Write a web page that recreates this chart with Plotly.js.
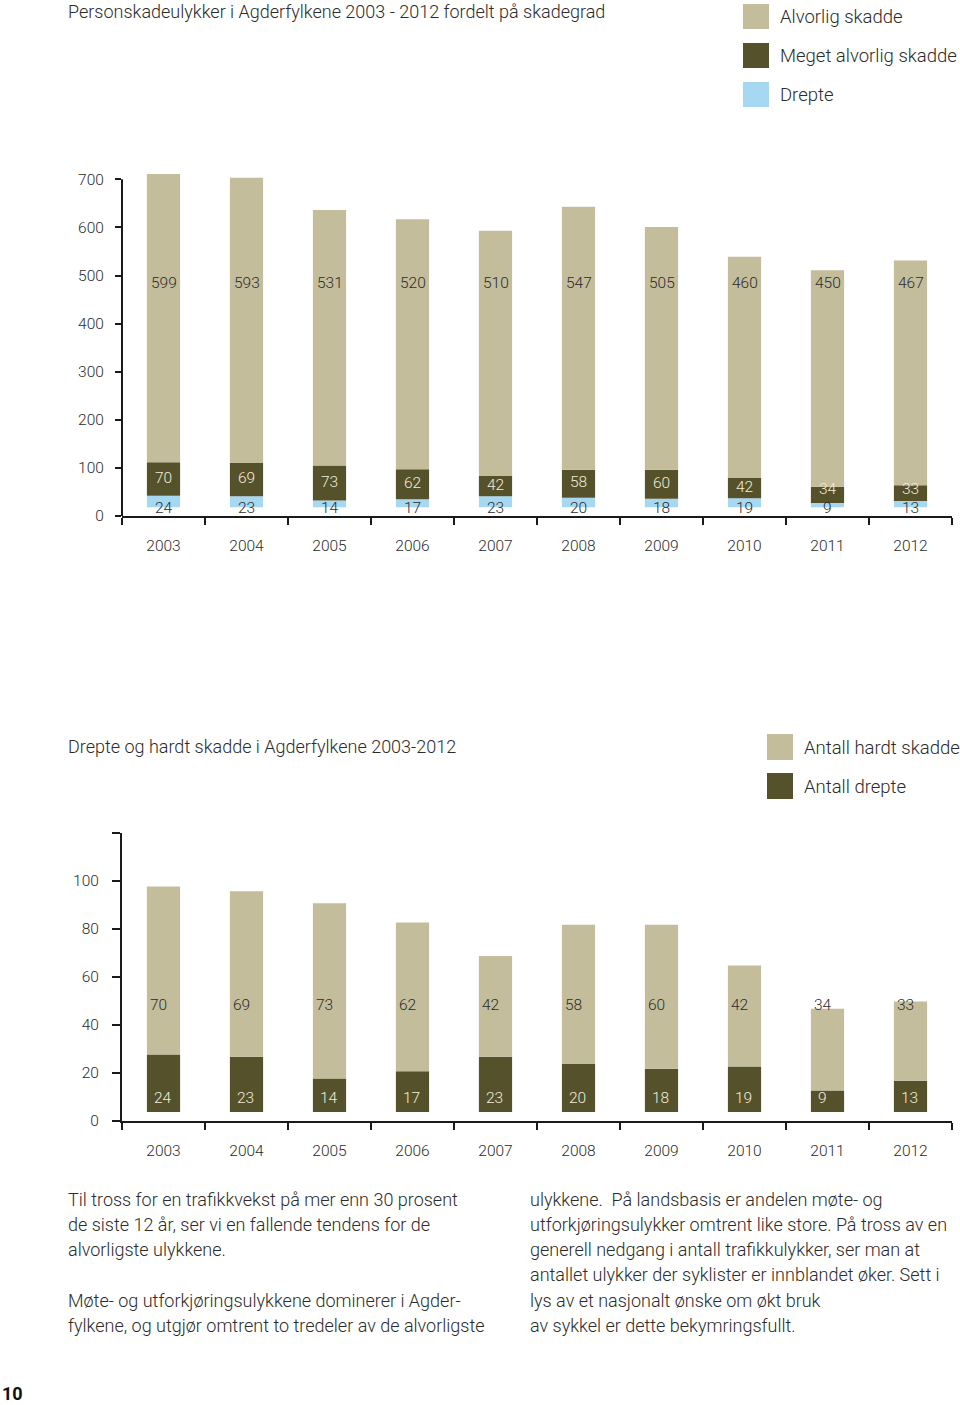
<!DOCTYPE html>
<html>
<head>
<meta charset="utf-8">
<script src="https://cdn.plot.ly/plotly-3.0.1.min.js"></script>
<style>
  html, body { margin: 0; padding: 0; background: #fff; }
  #chart { width: 960px; height: 1405px; }
</style>
</head>
<body>
<div id="chart"></div>
<script>
// ---------- DATA ----------
const years = ['2003','2004','2005','2006','2007','2008','2009','2010','2011','2012'];
// Chart 1: Personskadeulykker fordelt på skadegrad
const alvorligSkadde = [599, 593, 531, 520, 510, 547, 505, 460, 450, 467];
const megetAlvorligSkadde = [70, 69, 73, 62, 42, 58, 60, 42, 34, 33];
const drepte = [24, 23, 14, 17, 23, 20, 18, 19, 9, 13];
// Chart 2: Drepte og hardt skadde
const antallHardtSkadde = [70, 69, 73, 62, 42, 58, 60, 42, 34, 33];
const antallDrepte = [24, 23, 14, 17, 23, 20, 18, 19, 9, 13];

const title1 = 'Personskadeulykker i Agderfylkene 2003 - 2012 fordelt på skadegrad';
const title2 = 'Drepte og hardt skadde i Agderfylkene 2003-2012';
const legend1 = ['Alvorlig skadde', 'Meget alvorlig skadde', 'Drepte'];
const legend2 = ['Antall hardt skadde', 'Antall drepte'];
const y1Ticks = [0, 100, 200, 300, 400, 500, 600, 700];
const y2Ticks = [0, 20, 40, 60, 80, 100, 120];
const y2TickText = ['0', '20', '40', '60', '80', '100', ''];

const textLeft = [
  'Til tross for en trafikkvekst på mer enn 30 prosent',
  'de siste 12 år, ser vi en fallende tendens for de',
  'alvorligste ulykkene.',
  '',
  'Møte- og utforkjøringsulykkene dominerer i Agder-',
  'fylkene, og utgjør omtrent to tredeler av de alvorligste'
];
const textRight = [
  'ulykkene.  På landsbasis er andelen møte- og',
  'utforkjøringsulykker omtrent like store. På tross av en',
  'generell nedgang i antall trafikkulykker, ser man at',
  'antallet ulykker der syklister er innblandet øker. Sett i',
  'lys av et nasjonalt ønske om økt bruk',
  'av sykkel er dette bekymringsfullt.'
];
const pageNumber = '10';

// ---------- STYLE ----------
const W = 960, H = 1405;
const px = x => x / W;
const py = y => 1 - y / H;
const C_TAN = '#c4bd9b';
const C_DARK = '#55512a';
const C_BLUE = '#a7d8f1';
const C_TEXT = '#2b2b2b';
const C_LIGHTTXT = '#f1eddc';
const FONT = 'Roboto, "Liberation Sans", Arial, sans-serif';
const GAP1 = 18;    // visual lift of bars above the axis in chart 1
const GAP2 = 3.75;  // same in chart 2
const TXT = 18;     // body / title font size
const TICK = 15.5;

const add = (a, b) => a.map((v, i) => v + b[i]);
const c1base1 = drepte.map(() => GAP1);
const c1base2 = drepte.map(v => v + GAP1);
const c1base3 = add(c1base2, megetAlvorligSkadde);
const c2base1 = antallDrepte.map(() => GAP2);
const c2base2 = antallDrepte.map(v => v + GAP2);

const bar = (name, y, base, color, xa, ya) => ({
  type: 'bar', name: name, x: years, y: y, base: base, width: 0.4,
  marker: { color: color, line: { width: 0 } }, showlegend: false, xaxis: xa, yaxis: ya
});

const traces = [
  bar(legend1[2], drepte, c1base1, C_BLUE, 'x', 'y'),
  bar(legend1[1], megetAlvorligSkadde, c1base2, C_DARK, 'x', 'y'),
  bar(legend1[0], alvorligSkadde, c1base3, C_TAN, 'x', 'y'),
  bar(legend2[1], antallDrepte, c2base1, C_DARK, 'x2', 'y2'),
  bar(legend2[0], antallHardtSkadde, c2base2, C_TAN, 'x2', 'y2')
];

const annotations = [];
const shapes = [];
const f = (size, color, weight) => ({ family: FONT, size: size, color: color || C_TEXT, weight: weight || 300 });
const lab = (xa, ya, i, y, text, color, anchor, shift) => ({
  xref: xa, yref: ya, x: i, y: y, text: String(text), showarrow: false,
  font: f(TICK, color), xanchor: anchor, xshift: shift || 0, yanchor: 'middle'
});

years.forEach((yr, i) => {
  // chart 1
  annotations.push(lab('x', 'y', i, 485, alvorligSkadde[i], C_TEXT, 'center'));
  const midY = Math.max(c1base2[i] + megetAlvorligSkadde[i] / 2 + 3, GAP1 + 39);
  annotations.push(lab('x', 'y', i, midY, megetAlvorligSkadde[i], C_LIGHTTXT, 'center'));
  annotations.push(lab('x', 'y', i, GAP1 - 1, drepte[i], C_TEXT, 'center'));
  // chart 2
  annotations.push(lab('x2', 'y2', i, 48.3, antallHardtSkadde[i], C_TEXT, 'left', -16));
  annotations.push(lab('x2', 'y2', i, 9.6, antallDrepte[i], C_LIGHTTXT, 'left', -12));
});

const ptext = (x, y, t, size, color, weight) => ({
  xref: 'paper', yref: 'paper', x: px(x), y: py(y), text: t, showarrow: false,
  xanchor: 'left', yanchor: 'middle', font: f(size, color, weight)
});

// Titles
annotations.push(ptext(66, 11, title1, TXT));
annotations.push(ptext(66, 746, title2, TXT));

// Legends (drawn swatches)
const leg1Colors = [C_TAN, C_DARK, C_BLUE];
legend1.forEach((t, i) => {
  const top = 4 + i * 39;
  shapes.push({ type: 'rect', xref: 'paper', yref: 'paper', x0: px(743), x1: px(769), y0: py(top + 25), y1: py(top), fillcolor: leg1Colors[i], line: { width: 0 } });
  annotations.push(ptext(778, top + 13, t, 18.5));
});
const leg2Colors = [C_TAN, C_DARK];
legend2.forEach((t, i) => {
  const top = 734 + i * 39;
  shapes.push({ type: 'rect', xref: 'paper', yref: 'paper', x0: px(767), x1: px(793), y0: py(top + 26), y1: py(top), fillcolor: leg2Colors[i], line: { width: 0 } });
  annotations.push(ptext(802, top + 14, t, 18.5));
});

// Chart 1 y-axis line (stops at 700)
shapes.push({ type: 'line', xref: 'paper', yref: 'y', x0: px(122), x1: px(122), y0: 0, y1: 700, line: { color: '#1a1a1a', width: 2 } });

// Body text
const lineYs = [1199, 1224, 1249, 1274, 1300, 1325];
textLeft.forEach((t, i) => { if (t) annotations.push(ptext(66, lineYs[i], t, TXT)); });
textRight.forEach((t, i) => { annotations.push(ptext(528, lineYs[i], t, TXT)); });
annotations.push(ptext(0, 1393, pageNumber, 18, '#111', 700));

const xCommon = {
  type: 'category', range: [-0.5, 9.5], autorange: false,
  tickson: 'boundaries', ticks: 'outside', ticklen: 7, tickwidth: 2, tickcolor: '#1a1a1a',
  showline: true, linewidth: 2, linecolor: '#1a1a1a', showgrid: false, zeroline: false,
  tickfont: f(TICK), ticklabelstandoff: 14, tickangle: 0, fixedrange: true
};
const y1Top = 516 - 720 * 0.481;
const layout = {
  width: W, height: H,
  margin: { l: 0, r: 0, t: 0, b: 0 },
  paper_bgcolor: '#fff', plot_bgcolor: 'rgba(0,0,0,0)',
  barmode: 'overlay',
  showlegend: false,
  font: { family: FONT, color: C_TEXT, weight: 300 },
  xaxis: Object.assign({}, xCommon, { domain: [px(122), px(952)], anchor: 'y' }),
  yaxis: {
    domain: [py(516), py(y1Top)], range: [0, 720], autorange: false, anchor: 'x',
    tickvals: y1Ticks, ticks: 'outside', ticklen: 6, tickwidth: 2, tickcolor: '#1a1a1a',
    showline: false, showgrid: false, zeroline: false, tickfont: f(TICK), ticklabelstandoff: 8, fixedrange: true
  },
  xaxis2: Object.assign({}, xCommon, { domain: [px(122), px(952)], anchor: 'y2' }),
  yaxis2: {
    domain: [py(1121), py(833)], range: [0, 120], autorange: false, anchor: 'x2',
    tickvals: y2Ticks, ticktext: y2TickText, ticks: 'outside', ticklen: 8, tickwidth: 2, tickcolor: '#1a1a1a',
    showline: true, linewidth: 2, linecolor: '#1a1a1a', showgrid: false, zeroline: false,
    tickfont: f(TICK), ticklabelstandoff: 10, fixedrange: true
  },
  annotations: annotations,
  shapes: shapes
};

Plotly.newPlot('chart', traces, layout, { displayModeBar: false, staticPlot: true });
</script>
</body>
</html>
